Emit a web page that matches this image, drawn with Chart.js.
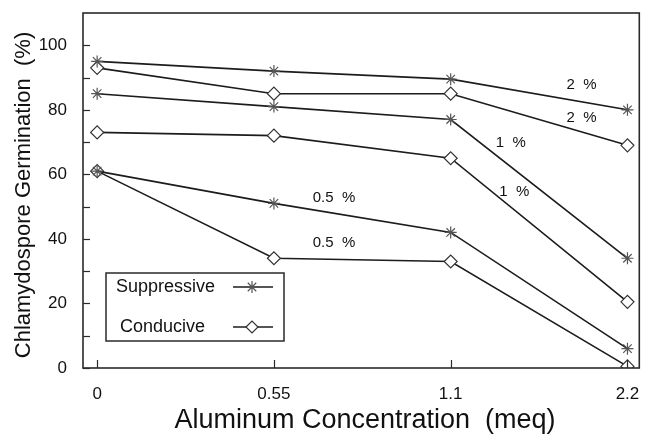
<!DOCTYPE html>
<html>
<head>
<meta charset="utf-8">
<script src="https://cdn.jsdelivr.net/npm/chart.js@4"></script>
<style>
  body { margin: 0; background: #fff; }
  #wrap { width: 647px; height: 437px; position: relative; }
</style>
</head>
<body>
<div id="wrap"><canvas id="germChart"></canvas></div>
<script>
// x categories (meq) and % germination
var categories = ['0', '0.55', '1.1', '2.2'];
var suppressive2 = [95, 92, 89.5, 80];
var conducive2 = [93, 85, 85, 69];
var suppressive1 = [85, 81, 77, 34];
var conducive1 = [73, 72, 65, 20.5];
var suppressive05 = [61, 51, 42, 6];
var conducive05 = [61, 34, 33, 0.5];
var yTicks = [0, 20, 40, 60, 80, 100];
var seriesNames = ['Suppressive', 'Conducive'];
var pctLabels = ['2  %', '2  %', '1  %', '1  %', '0.5  %', '0.5  %'];

var FONT = '"Liberation Sans", Arial, Helvetica, sans-serif';
var INK = '#1c1c1c';

function toPoints(vals) {
    return vals.map(function (v, i) { return { x: i, y: v }; });
}

function makeSet(label, vals, kind) {
    var star = kind === 'star';
    return {
        label: label,
        data: toPoints(vals),
        borderColor: INK,
        borderWidth: 1.6,
        pointStyle: star ? 'star' : 'rectRot',
        pointRadius: star ? 6 : 6.5,
        pointBorderColor: star ? '#555' : '#333',
        pointBorderWidth: 1.2,
        pointBackgroundColor: '#fff',
        tension: 0
    };
}

// where the little "%" notes sit, in axis units (x index, y %)
var notePos = [[2.74, 87.6], [2.74, 77.4], [2.34, 69.7], [2.36, 54.5], [1.34, 52.6], [1.34, 38.7]];

var framePlugin = {
    id: 'frame',
    afterDraw: function (chart) {
        var c = chart.ctx, a = chart.chartArea;
        var xs = chart.scales.x, ys = chart.scales.y;
        c.save();
        c.strokeStyle = '#2a2a2a';
        c.lineWidth = 1.6;
        c.strokeRect(a.left, a.top, a.right - a.left, a.bottom - a.top);

        // inward ticks
        c.lineWidth = 1.2;
        for (var v = 0; v <= 100; v += 10) {
            var py = Math.round(ys.getPixelForValue(v)) + 0.5;
            c.beginPath();
            c.moveTo(a.left, py);
            c.lineTo(a.left + 7, py);
            c.stroke();
        }
        for (var i = 0; i < categories.length; i++) {
            var px = Math.round(xs.getPixelForValue(i)) + 0.5;
            c.beginPath();
            c.moveTo(px, a.bottom);
            c.lineTo(px, a.bottom - 8);
            c.stroke();
        }

        // percent notes
        c.fillStyle = '#111';
        c.font = '15px ' + FONT;
        c.textAlign = 'center';
        c.textBaseline = 'middle';
        pctLabels.forEach(function (t, k) {
            c.fillText(t, xs.getPixelForValue(notePos[k][0]), ys.getPixelForValue(notePos[k][1]));
        });

        // legend box
        var lx = a.left + 23, ly = a.top + 260;
        c.lineWidth = 1.5;
        c.strokeStyle = '#2a2a2a';
        c.strokeRect(lx, ly, 178, 68);
        c.font = '18px ' + FONT;
        c.textAlign = 'left';
        c.fillStyle = '#111';
        c.fillText(seriesNames[0], lx + 10, ly + 14);
        c.fillText(seriesNames[1], lx + 14, ly + 54);
        var rows = [[ly + 14, 'star'], [ly + 54, 'rectRot']];
        rows.forEach(function (r) {
            c.strokeStyle = INK;
            c.lineWidth = 1.5;
            c.beginPath();
            c.moveTo(lx + 127, r[0]);
            c.lineTo(lx + 167, r[0]);
            c.stroke();
            c.fillStyle = '#fff';
            c.strokeStyle = r[1] === 'star' ? '#555' : '#333';
            c.lineWidth = 1.2;
            Chart.helpers.drawPoint(c, { pointStyle: r[1], radius: 6, borderWidth: 1.2 }, lx + 146, r[0]);
        });

        // axis titles
        c.fillStyle = '#111';
        c.textAlign = 'center';
        c.textBaseline = 'middle';
        c.font = '27px ' + FONT;
        c.fillText('Aluminum Concentration  (meq)', 365, 421);
        c.save();
        c.translate(24, 195);
        c.rotate(-Math.PI / 2);
        c.font = '22px ' + FONT;
        c.fillText('Chlamydospore Germination  (%)', 0, 0);
        c.restore();
        c.restore();
    }
};

var ctx = document.getElementById('germChart').getContext('2d');
var germChart = new Chart(ctx, {
    type: 'line',
    data: {
        datasets: [
            makeSet('Suppressive 2 %', suppressive2, 'star'),
            makeSet('Conducive 2 %', conducive2, 'diamond'),
            makeSet('Suppressive 1 %', suppressive1, 'star'),
            makeSet('Conducive 1 %', conducive1, 'diamond'),
            makeSet('Suppressive 0.5 %', suppressive05, 'star'),
            makeSet('Conducive 0.5 %', conducive05, 'diamond')
        ]
    },
    options: {
        responsive: true,
        maintainAspectRatio: false,
        animation: false,
        layout: { padding: { top: 13, right: 0, left: 0, bottom: 0 } },
        plugins: { legend: { display: false }, tooltip: { enabled: false } },
        scales: {
            x: {
                type: 'linear',
                min: -0.08,
                max: 3.067,
                grid: { display: false },
                border: { display: false },
                afterBuildTicks: function (s) { s.ticks = categories.map(function (_, i) { return { value: i }; }); },
                afterFit: function (s) { s.height = 69; s.paddingLeft = 0; s.paddingRight = 0; },
                ticks: {
                    color: '#111',
                    font: { family: FONT, size: 17 },
                    padding: 8,
                    maxRotation: 0,
                    callback: function (v) { return categories[v]; }
                }
            },
            y: {
                min: 0,
                max: 110,
                grid: { display: false },
                border: { display: false },
                afterBuildTicks: function (s) { s.ticks = yTicks.map(function (v) { return { value: v }; }); },
                afterFit: function (s) { s.width = 83; s.paddingTop = 0; s.paddingBottom = 0; },
                ticks: {
                    color: '#111',
                    font: { family: FONT, size: 17 },
                    padding: 8
                }
            }
        }
    },
    plugins: [framePlugin]
});
</script>
</body>
</html>
